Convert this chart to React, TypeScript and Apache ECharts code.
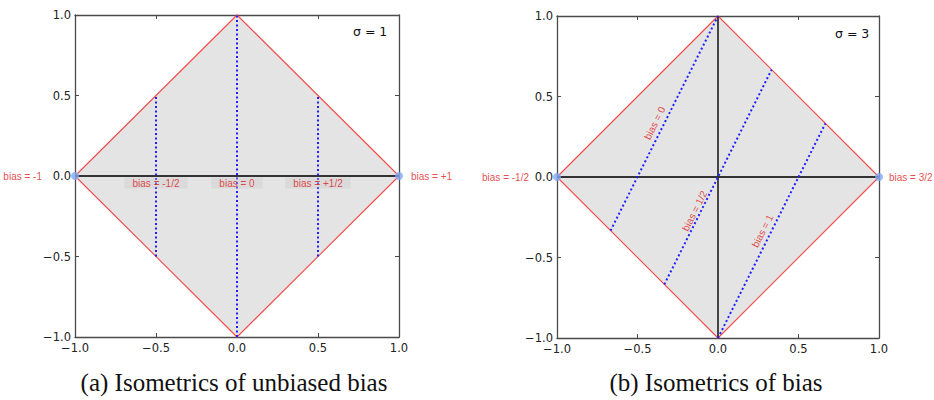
import React, { useEffect, useRef } from 'react';
import * as echarts from 'echarts';

// ---- data ----
const axisMin = -1;
const axisMax = 1;
const axisStep = 0.5;
const diamond = [[-1, 0], [0, 1], [1, 0], [0, -1], [-1, 0]];
const zeroLineH = [[-1, 0], [1, 0]];
const zeroLineV = [[0, -1], [0, 1]];
const endPoints = [[-1, 0], [1, 0]];

// (a) sigma = 1 : vertical isometrics
const isoA = [
  [[-0.5, -0.5], [-0.5, 0.5]],
  [[0, -1], [0, 1]],
  [[0.5, -0.5], [0.5, 0.5]],
];
const isoALabels = [
  { x: -0.5, y: 0, text: 'bias = -1/2' },
  { x: 0, y: 0, text: 'bias = 0' },
  { x: 0.5, y: 0, text: 'bias = +1/2' },
];
const endLabelsA = ['bias = -1', 'bias = +1'];

// (b) sigma = 3 : slanted isometrics
const isoB = [
  [[-0.667, -0.333], [0, 1]],
  [[-0.333, -0.667], [0.333, 0.667]],
  [[0, -1], [0.667, 0.333]],
];
const isoBLabels = [
  { x: -0.393, y: 0.335, text: 'bias = 0' },
  { x: -0.145, y: -0.211, text: 'bias = 1/2' },
  { x: 0.277, y: -0.335, text: 'bias = 1' },
];
const endLabelsB = ['bias = -1/2', 'bias = 3/2'];

const sigmaLabels = ['σ = 1', 'σ = 3'];
const captions = ['(a) Isometrics of unbiased bias', '(b) Isometrics of bias'];

// ---- style ----
const RED = '#f24a4a';
const RED_TEXT = '#de1a20';
const BLUE = '#1f1fff';
const FILL = '#e4e4e4';
const AXIS = '#4a4a4a';
const ZERO = '#333333';
const MARKER = '#7fa9f5';

const fmt = (v: number) => (v < 0 ? '\u2212' + Math.abs(v).toFixed(1) : v.toFixed(1));

function axisBase(g: number) {
  return {
    gridIndex: g,
    type: 'value',
    min: axisMin,
    max: axisMax,
    interval: axisStep,
    splitLine: { show: false },
    axisLine: { show: true, onZero: false, lineStyle: { color: AXIS, width: 1.3 } },
    axisTick: { show: true, inside: true, length: 4, lineStyle: { color: AXIS } },
  };
}
function xAxes(g: number) {
  return [
    { ...axisBase(g), position: 'bottom', axisLabel: { show: true, formatter: fmt, color: '#222', fontSize: 11.5, fontFamily: 'DejaVu Sans', margin: 5 } },
    { ...axisBase(g), position: 'top', axisLabel: { show: false } },
  ];
}
function yAxes(g: number) {
  return [
    { ...axisBase(g), position: 'left', axisLabel: { show: true, formatter: fmt, color: '#222', fontSize: 11.5, fontFamily: 'DejaVu Sans', margin: 4 } },
    { ...axisBase(g), position: 'right', axisLabel: { show: false } },
  ];
}

function lineSeries(g: number, data: number[][], color: string, width: number, type: any, z: number) {
  return {
    type: 'line',
    xAxisIndex: g * 2,
    yAxisIndex: g * 2,
    data,
    showSymbol: false,
    symbol: 'none',
    clip: false,
    silent: true,
    z,
    lineStyle: { color, width, type },
  };
}

function fillSeries(g: number) {
  return {
    type: 'custom',
    xAxisIndex: g * 2,
    yAxisIndex: g * 2,
    silent: true,
    clip: false,
    z: 1,
    data: [0],
    renderItem: (_params: any, api: any) => ({
      type: 'polygon',
      shape: { points: diamond.map((p) => api.coord(p)) },
      style: { fill: FILL, stroke: 'none' },
    }),
  };
}

function labelStyle(extra: any) {
  return {
    show: true,
    color: RED_TEXT,
    fontSize: 10,
    fontFamily: 'Liberation Sans',
    ...extra,
  };
}

function commonSeries(g: number, endLabels: string[], leftDist: number, rightDist: number) {
  const s: any[] = [];
  s.push(fillSeries(g));
  s.push(lineSeries(g, diamond, RED, 1.1, 'solid', 2));
  s.push(lineSeries(g, zeroLineH, ZERO, 1.8, 'solid', 2));
  s.push({
    type: 'scatter',
    xAxisIndex: g * 2,
    yAxisIndex: g * 2,
    clip: false,
    silent: true,
    symbolSize: 8,
    itemStyle: { color: MARKER },
    z: 5,
    data: endPoints.map((p, i) => ({
      value: p,
      label: labelStyle({
        formatter: endLabels[i],
        position: i === 0 ? 'left' : 'right',
        distance: i === 0 ? leftDist : rightDist,
      }),
    })),
  });
  return s;
}

function buildOption() {
  const series: any[] = [];
  // grid 0
  series.push(...commonSeries(0, endLabelsA, 29, 8));
  isoA.forEach((seg) => series.push(lineSeries(0, seg, BLUE, 2, [2, 2.5], 3)));
  series.push({
    type: 'scatter',
    xAxisIndex: 0,
    yAxisIndex: 0,
    clip: false,
    silent: true,
    symbolSize: 1,
    itemStyle: { color: 'rgba(0,0,0,0)' },
    z: 6,
    data: isoALabels.map((l) => ({
      value: [l.x, l.y],
      label: labelStyle({
        formatter: l.text,
        position: 'bottom',
        distance: 1,
        backgroundColor: 'rgba(200,200,200,0.45)',
        padding: [1, 8, 0, 8],
      }),
    })),
  });
  // grid 1
  series.push(...commonSeries(1, endLabelsB, 24, 6));
  series.push(lineSeries(1, zeroLineV, ZERO, 1.8, 'solid', 2));
  isoB.forEach((seg) => series.push(lineSeries(1, seg, BLUE, 2, [2, 2.5], 3)));
  series.push({
    type: 'scatter',
    xAxisIndex: 2,
    yAxisIndex: 2,
    clip: false,
    silent: true,
    symbolSize: 1,
    itemStyle: { color: 'rgba(0,0,0,0)' },
    z: 6,
    data: isoBLabels.map((l) => ({
      value: [l.x, l.y],
      label: labelStyle({
        formatter: l.text,
        position: 'inside',
        rotate: 63.4,
      }),
    })),
  });

  const graphic: any[] = [
    { type: 'text', x: 353, y: 31, style: { text: sigmaLabels[0], font: '12.5px "DejaVu Sans"', fill: '#111', textVerticalAlign: 'middle', verticalAlign: 'middle' } },
    { type: 'text', x: 835, y: 33, style: { text: sigmaLabels[1], font: '12.5px "DejaVu Sans"', fill: '#111', textVerticalAlign: 'middle', verticalAlign: 'middle' } },
    { type: 'text', x: 234, y: 382, style: { text: captions[0], font: '25px "Liberation Serif"', fill: '#111', textAlign: 'center', align: 'center', textVerticalAlign: 'middle', verticalAlign: 'middle' } },
    { type: 'text', x: 716, y: 382, style: { text: captions[1], font: '25px "Liberation Serif"', fill: '#111', textAlign: 'center', align: 'center', textVerticalAlign: 'middle', verticalAlign: 'middle' } },
  ];

  return {
    animation: false,
    backgroundColor: '#ffffff',
    grid: [
      { left: 75, top: 15, width: 324, height: 322 },
      { left: 557, top: 16, width: 322, height: 322 },
    ],
    xAxis: [...xAxes(0), ...xAxes(1)],
    yAxis: [...yAxes(0), ...yAxes(1)],
    series,
    graphic,
  };
}

export default function App() {
  const ref = useRef<HTMLDivElement>(null);
  useEffect(() => {
    if (!ref.current) return;
    const chart = echarts.init(ref.current, undefined, { renderer: 'svg' });
    chart.setOption(buildOption() as any);
    return () => chart.dispose();
  }, []);
  return (
    <div
      ref={ref}
      style={{ position: 'fixed', left: 0, top: 0, width: 934, height: 400, background: '#fff' }}
    />
  );
}
